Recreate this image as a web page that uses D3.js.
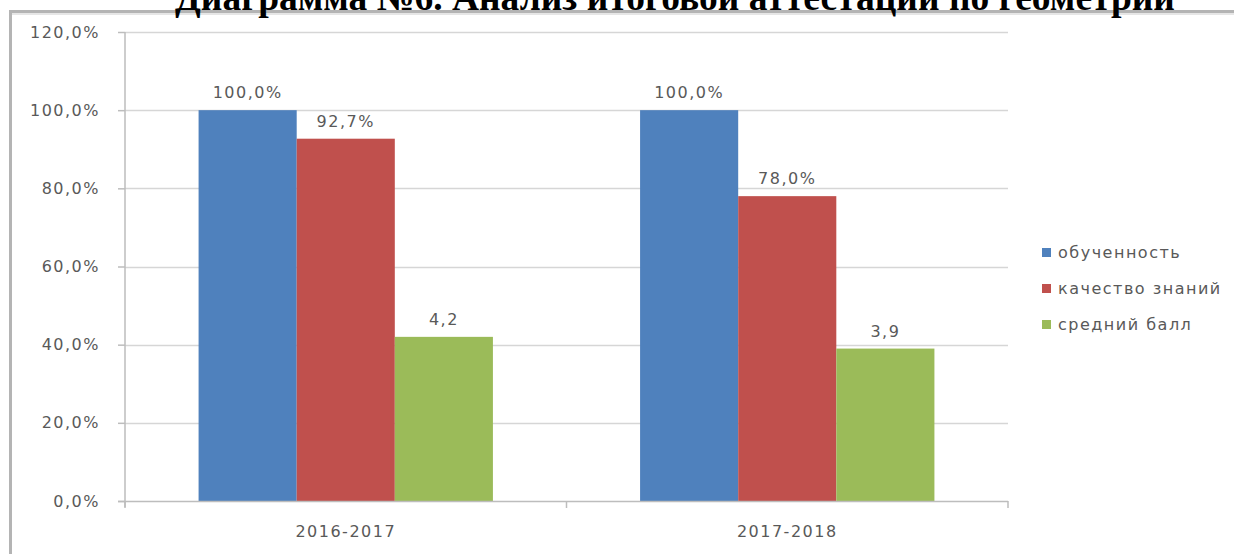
<!DOCTYPE html>
<html><head><meta charset="utf-8">
<script src="https://cdn.jsdelivr.net/npm/d3@7"></script>
<style>
html,body{margin:0;padding:0;background:#fff;}
svg{display:block;}
</style></head>
<body>
<svg id="chart" width="1234" height="554"></svg>
<script>
const title = "Диаграмма №6. Анализ итоговой аттестации по геометрии";
const categories = ["2016-2017", "2017-2018"];
const seriesNames = ["обученность", "качество знаний", "средний балл"];
const obuchennost = [100.0, 100.0];
const kachestvo = [92.7, 78.0];
const sredniyBall = [4.2, 3.9];
const yTicks = [0, 20, 40, 60, 80, 100, 120];
const colors = ["#4F81BD", "#C0504D", "#9BBB59"];

const fmtPct = v => d3.format(".1f")(v).replace(".", ",") + "%";
const fmtNum = v => d3.format(".1f")(v).replace(".", ",");
// "средний балл" is drawn on the percent axis as score × 10 %
const table = categories.map((c, i) => ({
  cat: c,
  bars: [
    {s: 0, v: obuchennost[i], label: fmtPct(obuchennost[i])},
    {s: 1, v: kachestvo[i], label: fmtPct(kachestvo[i])},
    {s: 2, v: sredniyBall[i] * 10, label: fmtNum(sredniyBall[i])}
  ]
}));

const svg = d3.select("#chart");
const font = "'DejaVu Sans', Verdana, sans-serif";
const textColor = "#595959";

// outer frame (top and left edges visible)
svg.append("line").attr("x1", 9).attr("x2", 1234).attr("y1", 11.5).attr("y2", 11.5)
  .attr("stroke", "#b4b4b4").attr("stroke-width", 3);
svg.append("line").attr("x1", 10).attr("x2", 1234).attr("y1", 14).attr("y2", 14)
  .attr("stroke", "#e6e6e6").attr("stroke-width", 2);
svg.append("line").attr("x1", 10.5).attr("x2", 10.5).attr("y1", 10).attr("y2", 554)
  .attr("stroke", "#b4b4b4").attr("stroke-width", 3);

// title (clipped at top as in the reference)
svg.append("text").attr("x", 175).attr("y", 10)
  .attr("text-anchor", "start")
  .attr("font-family", "'Liberation Serif', 'Times New Roman', serif")
  .attr("font-weight", "bold").attr("font-size", 37.5)
  .attr("fill", "#000").text(title);

const x0 = 125, x1 = 1008, yTop = 32, yBot = 501;
const x = d3.scaleBand().domain(categories).range([x0, x1]).paddingInner(0).paddingOuter(0);
const inner = d3.scaleBand().domain([0, 1, 2]).range([0, x.bandwidth()]).paddingOuter(0.75).paddingInner(0);
const y = d3.scaleLinear().domain([0, 120]).range([yBot, yTop]);

// gridlines
svg.append("g").selectAll("line").data(yTicks.filter(t => t > 0)).join("line")
  .attr("x1", x0).attr("x2", x1)
  .attr("y1", d => Math.round(y(d)) + 0.5).attr("y2", d => Math.round(y(d)) + 0.5)
  .attr("stroke", "#d6d6d6").attr("stroke-width", 1.5);

// y axis
const yAxis = d3.axisLeft(y).tickValues(yTicks).tickSize(7).tickPadding(18)
  .tickFormat(d => fmtPct(d));
const gy = svg.append("g").attr("transform", `translate(${x0},0)`).call(yAxis);
gy.select(".domain").attr("stroke", "#bdbdbd").attr("stroke-width", 1.5)
  .attr("d", `M0,${yTop}V${yBot + 6}`);
gy.selectAll(".tick line").attr("stroke", "#bdbdbd").attr("stroke-width", 1.5);
gy.selectAll("text").attr("font-family", font).attr("font-size", 16)
  .attr("letter-spacing", "1.5px").attr("fill", textColor);

// bars
const groups = svg.append("g").selectAll("g").data(table).join("g")
  .attr("transform", d => `translate(${x(d.cat)},0)`);
groups.selectAll("rect").data(d => d.bars).join("rect")
  .attr("x", d => inner(d.s)).attr("width", inner.bandwidth())
  .attr("y", d => y(d.v)).attr("height", d => yBot - y(d.v))
  .attr("fill", d => colors[d.s]);
groups.selectAll("text").data(d => d.bars).join("text")
  .attr("x", d => inner(d.s) + inner.bandwidth() / 2)
  .attr("y", d => y(d.v) - 12)
  .attr("text-anchor", "middle")
  .attr("font-family", font).attr("font-size", 16).attr("letter-spacing", "1.5px")
  .attr("fill", textColor).text(d => d.label);

// x axis
const xAxis = d3.axisBottom(x).tickSize(0).tickPadding(25);
const gx = svg.append("g").attr("transform", `translate(0,${yBot})`).call(xAxis);
gx.select(".domain").attr("stroke", "#bdbdbd").attr("stroke-width", 1.5)
  .attr("d", `M${x0 - 7},0.5H${x1}`);
gx.selectAll("text").attr("font-family", font).attr("font-size", 16)
  .attr("letter-spacing", "1.5px").attr("fill", textColor);
// category separator ticks
svg.append("g").selectAll("line").data([x0, x0 + x.bandwidth(), x1]).join("line")
  .attr("x1", d => d).attr("x2", d => d).attr("y1", yBot).attr("y2", yBot + 7)
  .attr("stroke", "#bdbdbd").attr("stroke-width", 1.5);

// legend
const lg = svg.append("g").selectAll("g").data(seriesNames).join("g")
  .attr("transform", (d, i) => `translate(1042,${252 + i * 36})`);
lg.append("rect").attr("x", 0).attr("y", -4).attr("width", 9).attr("height", 9)
  .attr("fill", (d, i) => colors[i]);
lg.append("text").attr("x", 16).attr("y", 1).attr("dominant-baseline", "middle")
  .attr("font-family", font).attr("font-size", 16).attr("letter-spacing", "1.5px")
  .attr("fill", textColor).text(d => d);
</script>
</body></html>
